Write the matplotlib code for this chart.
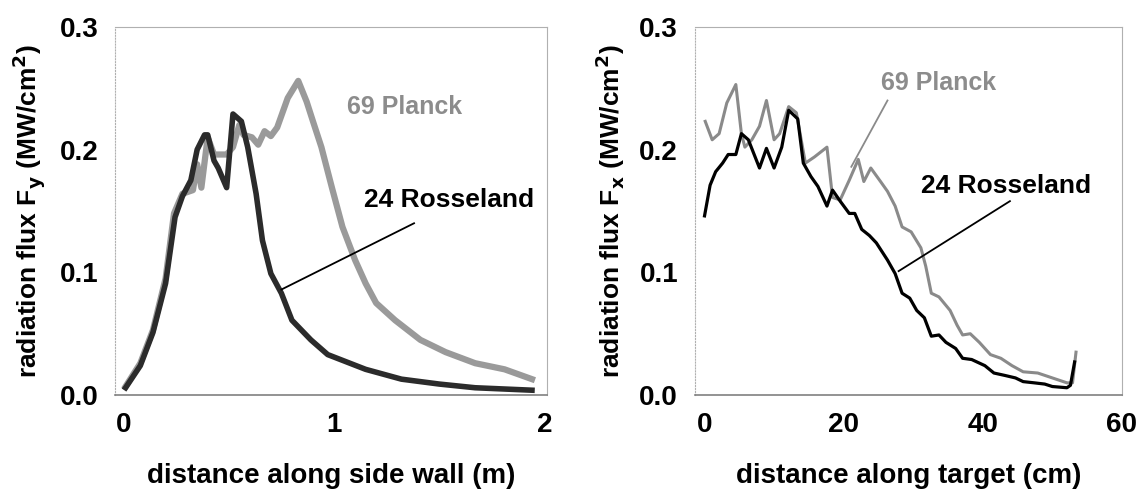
import matplotlib.pyplot as plt

plt.rcParams['font.family'] = ['Liberation Sans', 'DejaVu Sans']
plt.rcParams['font.weight'] = 'bold'
plt.rcParams['axes.labelweight'] = 'bold'
plt.rcParams['mathtext.default'] = 'bf'

# side wall (left panel), distance in m
wall_ross_x = [0.01, 0.08, 0.14, 0.20, 0.245, 0.28, 0.32, 0.35, 0.385, 0.40, 0.43, 0.45, 0.49,
               0.52, 0.56, 0.59, 0.63, 0.66, 0.70, 0.75, 0.80, 0.89, 0.97, 1.15, 1.32,
               1.50, 1.67, 1.94]
wall_ross_y = [0.006, 0.024, 0.051, 0.091, 0.145, 0.162, 0.175, 0.200, 0.212, 0.212, 0.191, 0.185, 0.169,
               0.229, 0.223, 0.202, 0.164, 0.126, 0.099, 0.083, 0.061, 0.045, 0.033, 0.021, 0.013,
               0.009, 0.006, 0.004]

wall_planck_x = [0.01, 0.08, 0.14, 0.20, 0.24, 0.28, 0.33, 0.35, 0.37, 0.40, 0.43, 0.49, 0.52,
                 0.55, 0.57, 0.61, 0.64, 0.67, 0.70, 0.73, 0.78, 0.83, 0.87, 0.90, 0.94,
                 0.99, 1.04, 1.10, 1.15, 1.20, 1.29, 1.41, 1.53, 1.67, 1.81, 1.94]
wall_planck_y = [0.007, 0.026, 0.053, 0.095, 0.148, 0.164, 0.167, 0.188, 0.169, 0.210, 0.196, 0.196, 0.202,
                 0.220, 0.212, 0.210, 0.204, 0.215, 0.211, 0.218, 0.242, 0.256, 0.239, 0.223, 0.202,
                 0.169, 0.137, 0.110, 0.091, 0.075, 0.061, 0.045, 0.035, 0.026, 0.021, 0.013]

# target (right panel), distance in cm
tgt_ross_x = [0, 0.8, 1.6, 2.6, 3.4, 4.5, 5.3, 6.3, 7.9, 8.9, 10.0, 11.1, 12.1, 13.4, 14.2,
              15.3, 16.3, 17.6, 18.4, 19.5, 20.8, 21.6, 22.6, 23.7, 24.7, 26.3, 27.4, 28.4,
              29.5, 30.5, 31.6, 32.6, 33.7, 34.7, 36.1, 37.1, 38.4, 40.3, 41.6, 43.2, 44.7,
              45.8, 47.4, 48.9, 50.0, 52.1, 52.6, 53.2]
tgt_ross_y = [0.146, 0.171, 0.182, 0.189, 0.196, 0.196, 0.213, 0.208, 0.185, 0.201, 0.185, 0.202,
              0.232, 0.225, 0.189, 0.178, 0.170, 0.154, 0.167, 0.158, 0.148, 0.148, 0.135, 0.130,
              0.124, 0.110, 0.099, 0.083, 0.079, 0.069, 0.063, 0.048, 0.049, 0.043, 0.038, 0.030,
              0.029, 0.024, 0.018, 0.016, 0.014, 0.011, 0.010, 0.009, 0.007, 0.006, 0.008, 0.027]

tgt_planck_x = [0.1, 1.1, 2.1, 3.2, 4.5, 5.3, 5.8, 6.8, 7.9, 8.9, 10.0, 10.8, 12.1, 13.2, 14.5,
                15.8, 17.6, 18.4, 19.5, 20.8, 22.1, 22.9, 23.9, 25.3, 26.3, 27.4, 28.4, 29.7,
                31.1, 31.8, 32.6, 33.7, 35.3, 36.3, 37.1, 38.2, 39.5, 41.1, 42.6, 44.2, 45.8,
                47.9, 50.0, 52.1, 52.9, 53.4]
tgt_planck_y = [0.223, 0.208, 0.213, 0.238, 0.253, 0.213, 0.202, 0.208, 0.219, 0.240, 0.208, 0.213,
                0.235, 0.230, 0.189, 0.194, 0.202, 0.161, 0.159, 0.175, 0.192, 0.174, 0.185, 0.174,
                0.166, 0.154, 0.137, 0.133, 0.120, 0.105, 0.083, 0.080, 0.069, 0.057, 0.049, 0.050,
                0.043, 0.033, 0.030, 0.024, 0.019, 0.018, 0.014, 0.010, 0.010, 0.035]

fig = plt.figure(figsize=(11.39, 4.97), dpi=100)
ax1 = fig.add_axes([0.101, 0.205, 0.379, 0.741])
ax2 = fig.add_axes([0.610, 0.205, 0.375, 0.741])

gray = '#9a9a9a'
dark = '#2b2b2b'

ax1.plot(wall_planck_x, wall_planck_y, color=gray, lw=4.5, solid_joinstyle='round')
ax1.plot(wall_ross_x, wall_ross_y, color=dark, lw=4, solid_joinstyle='round')
ax1.text(1.06, 0.235, '69 Planck', color='#8c8c8c', fontsize=18, va='center')
ax1.text(1.14, 0.159, '24 Rosseland', color='black', fontsize=19, va='center')
ax1.plot([0.75, 1.38], [0.086, 0.140], color='black', lw=1.3)
ax1.set_xlim(-0.04, 2.01)
ax1.set_xticks([0, 1, 2])
ax1.set_ylabel('radiation flux F$_y$ (MW/cm$^2$)', fontsize=19, labelpad=9)
ax1.set_xlabel('distance along side wall (m)', fontsize=20, labelpad=18)

ax2.plot(tgt_planck_x, tgt_planck_y, color='#8a8a8a', lw=2.2)
ax2.plot(tgt_ross_x, tgt_ross_y, color='black', lw=2.3)
ax2.text(25.3, 0.254, '69 Planck', color='#8c8c8c', fontsize=18, va='center')
ax2.plot([26.3, 21.1], [0.240, 0.186], color='#8a8a8a', lw=1.3)
ax2.text(31.1, 0.170, '24 Rosseland', color='black', fontsize=19, va='center')
ax2.plot([43.9, 27.9], [0.158, 0.101], color='black', lw=1.3)
ax2.set_xlim(-1.4, 60)
ax2.set_xticks([0, 20, 40, 60])
ax2.set_ylabel('radiation flux F$_x$ (MW/cm$^2$)', fontsize=19, labelpad=9)
ax2.set_xlabel('distance along target (cm)', fontsize=20, labelpad=18)

for ax in (ax1, ax2):
    ax.set_ylim(0, 0.3)
    ax.set_yticks([0, 0.1, 0.2, 0.3])
    ax.set_yticklabels(['0.0', '0.1', '0.2', '0.3'])
    ax.tick_params(length=0, labelsize=20, pad=12)
    for s in ax.spines.values():
        s.set_color('#b0b0b0')
        s.set_linewidth(0.8)
    ax.spines['left'].set_linestyle(':')
    ax.spines['bottom'].set_color('#808080')
    ax.spines['bottom'].set_linewidth(1.2)
    for lab in ax.get_xticklabels() + ax.get_yticklabels():
        lab.set_fontweight('bold')

fig.savefig('out.png', dpi=100)
